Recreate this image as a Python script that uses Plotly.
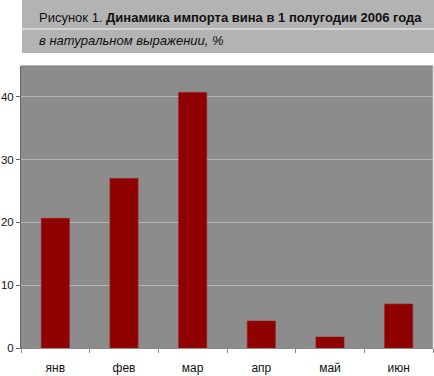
import plotly.graph_objects as go

categories = ["янв", "фев", "мар", "апр", "май", "июн"]
values = [20.65, 27.0, 40.7, 4.3, 1.75, 7.0]
y_ticks = [0, 10, 20, 30, 40]
title_plain = "Рисунок 1. "
title_bold = "Динамика импорта вина в 1 полугодии 2006 года"
subtitle = "в натуральном выражении, %"

W, H = 434, 376
L, R, T, B = 21, 1, 66, 28
pw, ph = W - L - R, H - T - B

def px_x(x):
    return (x - L) / pw

def px_y(y):
    return (H - B - y) / ph

fig = go.Figure(go.Bar(
    x=categories, y=values,
    marker=dict(color="#8f0000", line=dict(color="#a02020", width=0.6)),
    width=0.41,
))

fig.update_layout(
    width=W, height=H,
    margin=dict(l=L, r=R, t=T, b=B, autoexpand=False),
    paper_bgcolor="white",
    plot_bgcolor="#8c8c8c",
    font=dict(family="Liberation Sans, Arial, sans-serif", color="#111"),
    showlegend=False,
    xaxis=dict(
        automargin=False,
        showgrid=False, ticks="outside", ticklen=4, tickcolor="#888",
        tickson="boundaries", showline=True, linecolor="#888", linewidth=1,
        tickfont=dict(size=12, color="#111"),
        ticklabelstandoff=9,
    ),
    yaxis=dict(
        automargin=False,
        range=[0, 44.9], tickvals=y_ticks, showgrid=True,
        gridcolor="#b4b4b4", gridwidth=1, zeroline=False,
        ticks="outside", ticklen=4, tickcolor="#666",
        showline=True, linecolor="#666", linewidth=1,
        tickfont=dict(size=11.5, color="#111"),
    ),
    shapes=[
        dict(type="rect", xref="paper", yref="paper",
             x0=px_x(22), x1=px_x(434), y0=px_y(53), y1=px_y(0),
             fillcolor="#b3b3b3", line=dict(width=0), layer="below"),
        dict(type="line", xref="paper", yref="paper",
             x0=px_x(22), x1=px_x(434), y0=px_y(29), y1=px_y(29),
             line=dict(color="#d4d4d4", width=2)),
        dict(type="line", xref="paper", yref="paper",
             x0=0, x1=1, y0=1, y1=1, line=dict(color="#7a7a7a", width=1)),
        dict(type="line", xref="paper", yref="paper",
             x0=1, x1=1, y0=0, y1=1, line=dict(color="#bdbdbd", width=1)),
    ],
    annotations=[
        dict(xref="paper", yref="paper", x=px_x(37), y=px_y(17),
             xanchor="left", yanchor="middle", showarrow=False,
             text=title_plain + "<b>" + title_bold + "</b>",
             font=dict(size=13, color="#111")),
        dict(xref="paper", yref="paper", x=px_x(37), y=px_y(41),
             xanchor="left", yanchor="middle", showarrow=False,
             text="<i>" + subtitle + "</i>",
             font=dict(size=13, color="#111")),
    ],
)

fig.write_html(
    "out.html",
    config={"displayModeBar": False},
    post_script="document.body.style.margin='0';document.body.style.overflow='hidden';",
)
